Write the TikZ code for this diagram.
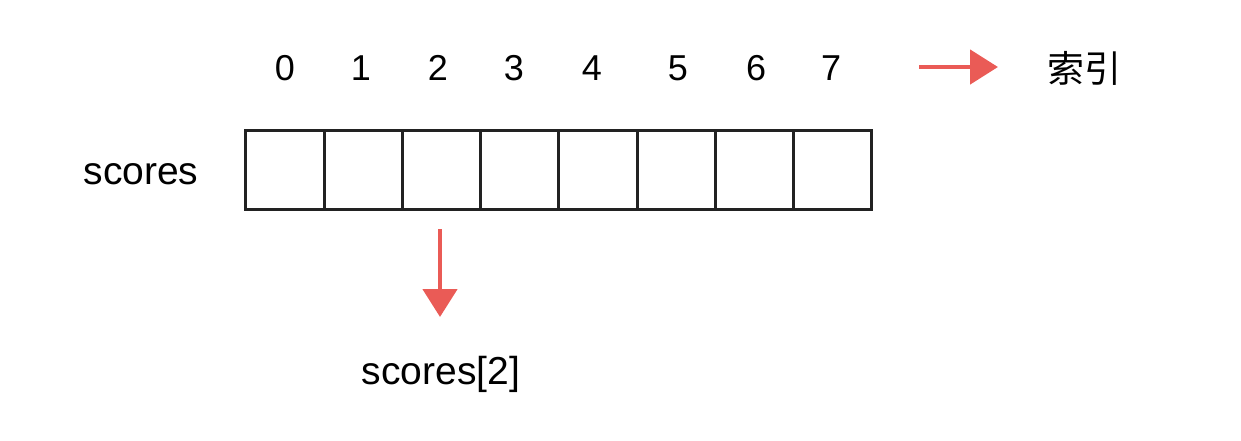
\documentclass[tikz,border=0pt]{standalone}
\usepackage{fontspec}
\setmainfont{Liberation Sans}
\newfontfamily\cjk{Noto Sans CJK SC}
\usetikzlibrary{arrows.meta}
\definecolor{arrred}{RGB}{234,91,86}
\definecolor{boxline}{RGB}{34,34,34}
\tikzset{
  cell/.style={draw=boxline, line width=1.5pt, minimum width=39.125pt, minimum height=39.5pt, inner sep=0pt},
  idx/.style={font=\fontsize{18}{18}\selectfont, inner sep=0pt},
  lbl/.style={font=\fontsize{19.5}{19.5}\selectfont, inner sep=0pt},
  redarrow/.style={draw=arrred, line width=2.4pt, -{Triangle[length=14pt,width=17pt]}}
}
\begin{document}
\begin{tikzpicture}[x=0.5pt,y=-0.5pt]
\useasboundingbox (0,0) rectangle (1241,440);
\foreach \i in {0,...,7}{
  \node[cell] (c\i) at ({285.1+78.25*\i},169.5) {};
}
\node[idx] (i0) at (285,68) {0};
\node[idx] (i1) at (361,68) {1};
\node[idx] (i2) at (438,68) {2};
\node[idx] (i3) at (514,68) {3};
\node[idx] (i4) at (592,68) {4};
\node[idx] (i5) at (678,68) {5};
\node[idx] (i6) at (756,68) {6};
\node[idx] (i7) at (831,68) {7};
\node[lbl] (name) at (141,174) {scores};
\node[lbl] (elem) at (441,374) {scores[2]};
\node[font=\cjk\fontsize{18.5}{18.5}\selectfont, inner sep=0pt] (suoyin) at (1084,68) {索引};
\coordinate (ra) at (919,67);
\coordinate (rb) at (998,67);
\draw[redarrow] (ra) -- (rb);
\coordinate (da) at (440,229);
\coordinate (db) at (440,317);
\draw[redarrow] (da) -- (db);
\end{tikzpicture}
\end{document}
